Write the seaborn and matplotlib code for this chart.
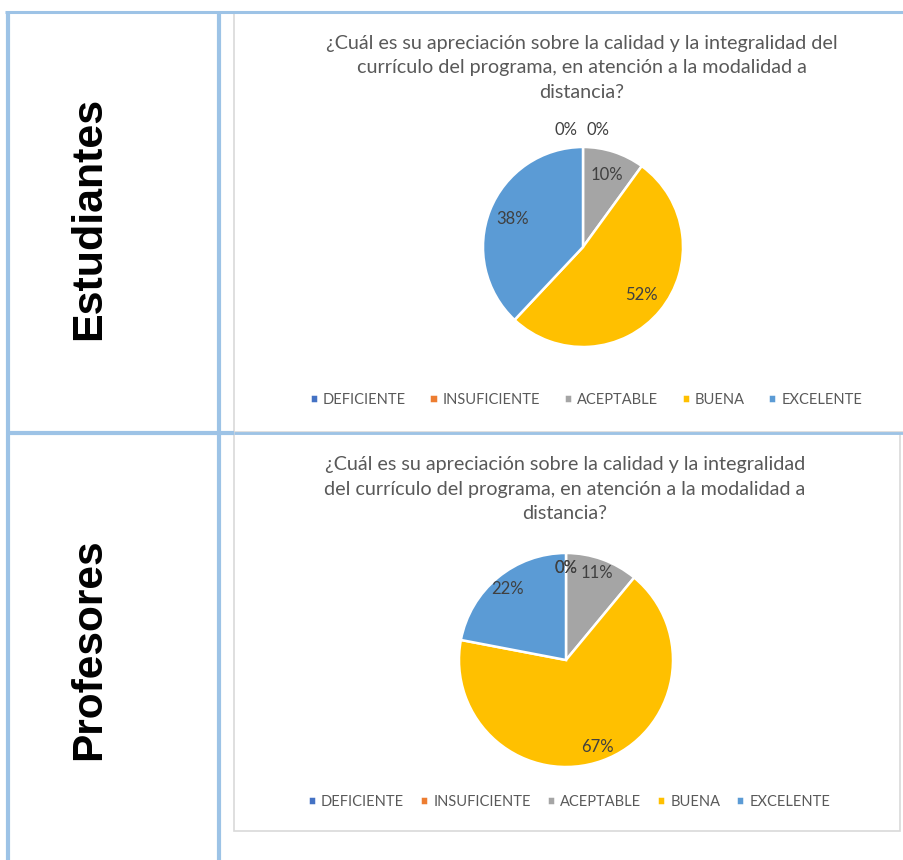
import numpy as np
import matplotlib
matplotlib.use("Agg")
import matplotlib.pyplot as plt
from matplotlib.lines import Line2D
from matplotlib.patches import Rectangle
import seaborn as sns

# ---- data ----
categories = ["DEFICIENTE", "INSUFICIENTE", "ACEPTABLE", "BUENA", "EXCELENTE"]
estudiantes = [0, 0, 10, 52, 38]
profesores = [0, 0, 11, 67, 22]
row_labels = ["Estudiantes", "Profesores"]
title_est = ("¿Cuál es su apreciación sobre la calidad y la integralidad del\n"
             "currículo del programa, en atención a la modalidad a\n"
             "distancia?")
title_prof = ("¿Cuál es su apreciación sobre la calidad y la integralidad\n"
              "del currículo del programa, en atención a la modalidad a\n"
              "distancia?")

sns.set_theme(style="white")
plt.rcParams["font.family"] = ["Lato", "DejaVu Sans"]
colors = ["#4472C4", "#ED7D31", "#A5A5A5", "#FFC000", "#5B9BD5"]

W, H = 904, 860
fig = plt.figure(figsize=(W / 100, H / 100), dpi=100)
fig.patch.set_facecolor("white")

def fx(x):
    return x / W

def fy(y):
    return 1 - y / H

TXT = "#595959"
LBL = "#404040"
BLUE = "#9DC3E6"

# chart boxes
fig.add_artist(Rectangle((fx(234), fy(432)), fx(904 - 234 + 5), (432 - 13) / H,
                         transform=fig.transFigure, fill=False, edgecolor="#D9D9D9", lw=1.2))
fig.add_artist(Rectangle((fx(234), fy(831)), fx(900 - 234), (831 - 434) / H,
                         transform=fig.transFigure, fill=False, edgecolor="#D9D9D9", lw=1.2))

# table lines
def line(x0, y0, x1, y1, lw=3, color=BLUE):
    fig.add_artist(Line2D([fx(x0), fx(x1)], [fy(y0), fy(y1)], transform=fig.transFigure,
                          color=color, lw=lw, solid_capstyle="butt"))

line(5, 12, 904, 12, lw=2.2)
line(8, 12, 8, 860)
line(219, 12, 219, 860)
line(8, 433, 234, 433)
line(234, 432.5, 904, 432.5, lw=2.0)

# row labels
fig.text(fx(89), fy(218), row_labels[0], rotation=90, ha="center", va="center",
         fontsize=31, fontweight="bold", family="Liberation Sans", color="black")
fig.text(fx(89), fy(649), row_labels[1], rotation=90, ha="center", va="center",
         fontsize=30.5, fontweight="bold", family="Liberation Sans", color="black")


def draw_pie(values, cx, cy, r, title, title_cx, title_y, leg_cx, leg_y,
             pct_dist, zero_dist, zero_dx, colspace):
    ax = fig.add_axes([fx(cx - r), fy(cy + r), 2 * r / W, 2 * r / H])
    wedges, texts, autotexts = ax.pie(values, colors=colors, startangle=90, counterclock=False,
                                      autopct=lambda p: f"{p:.0f}%", pctdistance=pct_dist,
                                      wedgeprops=dict(edgecolor="white", linewidth=1.8),
                                      textprops=dict(color=LBL, fontsize=12))
    ax.set_xlim(-1, 1)
    ax.set_ylim(-1, 1)
    ax.set_aspect("equal")
    ax.axis("off")
    zeros = [i for i, v in enumerate(values) if v == 0]
    for k, i in enumerate(zeros):
        t = autotexts[i]
        off = zero_dx[k] if k < len(zero_dx) else 0
        t.set_position((off, zero_dist))
    fig.text(fx(title_cx), fy(title_y), title, ha="center", va="center", fontsize=14.2,
             color=TXT, linespacing=1.55)
    fig.legend(wedges, categories, loc="center", bbox_to_anchor=(fx(leg_cx), fy(leg_y)),
               ncol=5, frameon=False, fontsize=10.5, handlelength=0.55, handleheight=0.55,
               handletextpad=0.35, columnspacing=colspace, labelcolor=TXT)
    return ax


draw_pie(estudiantes, 583, 247, 100, title_est, 582, 68, 586, 400,
         0.76, 1.17, [-0.17, 0.15], 1.62)
draw_pie(profesores, 566, 660, 107, title_prof, 565, 489, 569, 802,
         0.86, 0.86, [0.0, 0.0], 1.1)

fig.savefig("out.png", dpi=100, facecolor="white")
